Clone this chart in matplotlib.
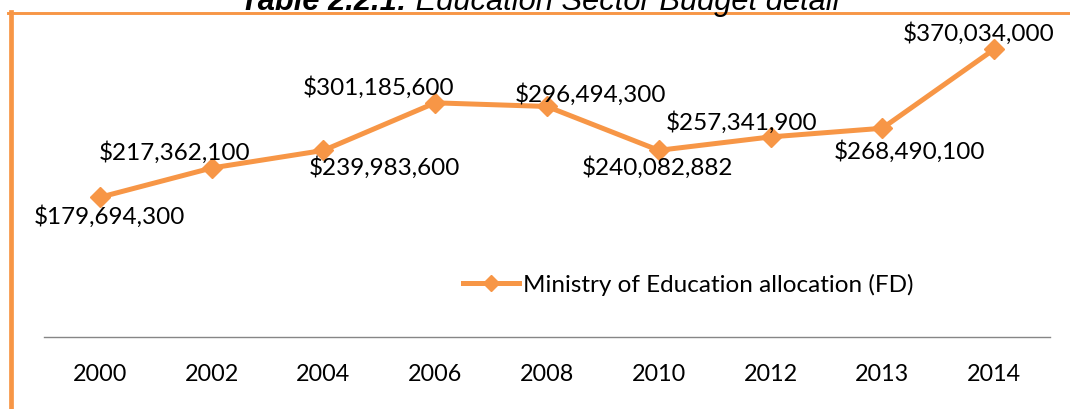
import matplotlib
matplotlib.use("Agg")
import matplotlib.pyplot as plt
from matplotlib.lines import Line2D

years = ["2000", "2002", "2004", "2006", "2008", "2010", "2012", "2013", "2014"]
allocation = [179694300, 217362100, 239983600, 301185600, 296494300,
              240082882, 257341900, 268490100, 370034000]
series_name = "Ministry of Education allocation (FD)"
title_bold = "Table 2.2.1:"
title_rest = " Education Sector Budget detail"

# where each value label sits relative to its point (pixels)
label_offsets = [(10, -18), (-37, 16), (61, -16), (-57, 16), (43, 13),
                 (-1, -16), (-29, 15), (27, -22), (-15, 17)]

orange = "#F79646"
W, H = 1070, 410
fs = 17.5

fig = plt.figure(figsize=(W / 100, H / 100), dpi=100)
ax = fig.add_axes([44 / W, 1 - 338 / H, (1050 - 44) / W, (338 - 27) / H])

x = list(range(len(years)))
ax.plot(x, allocation, color=orange, lw=3.6, marker="D", ms=10, mec=orange,
        mfc=orange, label=series_name)

for i, v in enumerate(allocation):
    dx, dy = label_offsets[i]
    ax.annotate(f"${v:,}", (i, v), xytext=(dx, dy), textcoords="offset pixels",
                ha="center", va="center", fontsize=fs, family="Lato", color="black")

ax.set_xlim(-0.5, len(years) - 0.5)
ax.set_ylim(0, 400000000)
ax.set_xticks(x)
ax.set_xticklabels(years, fontsize=16.8, family="Lato")
ax.tick_params(axis="x", length=0, pad=18.5)
ax.set_yticks([])
for s in ["top", "right", "left"]:
    ax.spines[s].set_visible(False)
ax.spines["bottom"].set_color("#868686")
ax.spines["bottom"].set_linewidth(1.0)
ax.patch.set_alpha(0)

fpx = fs * 100 / 72
ax.legend(loc="center left", bbox_to_anchor=(463 / W, 1 - 285 / H),
          bbox_transform=fig.transFigure, frameon=False, borderpad=0,
          borderaxespad=0, handlelength=56 / fpx, handletextpad=4 / fpx,
          markerscale=0.8, prop={"family": "Lato", "size": fs})

# orange frame around the chart (cut on the right and bottom)
fig.add_artist(Line2D([10.5 / W, 10.5 / W], [0, 1 - 12.5 / H], color=orange, lw=3.4))
fig.add_artist(Line2D([8 / W, 1], [1 - 13.5 / H, 1 - 13.5 / H], color=orange, lw=2.1))

# clipped title at the very top
t1 = fig.text(240 / W, 1 - 10 / H, title_bold, fontsize=22.2, fontweight="bold",
              style="italic", family="Liberation Sans", va="baseline")
fig.canvas.draw()
bb = t1.get_window_extent()
fig.text(bb.x1 / W, 1 - 10 / H, title_rest, fontsize=22.2, style="italic",
         family="Liberation Sans", va="baseline")

fig.savefig("out.png", dpi=100)
